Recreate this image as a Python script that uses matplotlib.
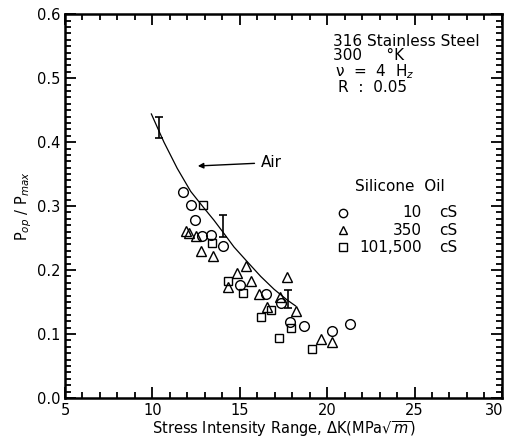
import numpy as np
import matplotlib
matplotlib.use("Agg")
import matplotlib.pyplot as plt
import matplotlib.transforms as mtransforms
from matplotlib.ticker import MultipleLocator, FormatStrFormatter

# silicone oil data
dk_10 = [11.77, 12.23, 12.46, 12.86, 13.33, 14.06, 15.01, 16.48, 17.34, 17.87, 18.69, 20.26, 21.30]
p_10 = [0.322, 0.302, 0.279, 0.254, 0.255, 0.238, 0.176, 0.163, 0.149, 0.119, 0.113, 0.104, 0.115]

dk_350 = [11.94, 12.08, 12.48, 12.80, 13.47, 14.33, 14.82, 15.34, 15.62, 16.12, 16.54, 17.30, 17.72, 18.20, 19.66, 20.29]
p_350 = [0.261, 0.258, 0.254, 0.230, 0.222, 0.173, 0.195, 0.207, 0.183, 0.162, 0.142, 0.158, 0.189, 0.136, 0.092, 0.088]

dk_101500 = [12.91, 13.39, 14.31, 15.18, 16.21, 16.80, 17.26, 17.93, 19.13]
p_101500 = [0.302, 0.242, 0.183, 0.164, 0.127, 0.137, 0.094, 0.110, 0.077]

# air curve and its error bars
dk_air = [9.94, 10.66, 11.42, 12.19, 12.95, 13.52, 14.1, 14.67, 15.43, 16.2, 16.96, 17.72, 18.19]
p_air = [0.444, 0.400, 0.359, 0.323, 0.297, 0.278, 0.257, 0.236, 0.213, 0.190, 0.170, 0.153, 0.144]

dk_err = [10.38, 14.04, 17.76]
p_err = [0.423, 0.269, 0.155]
p_err_half = [0.017, 0.017, 0.014]

legend_labels = ["10", "350", "101,500"]

fig = plt.figure(figsize=(5.08, 4.43), dpi=100)
ax = fig.add_axes([0.128, 0.1016, 0.86, 0.8664])

ms = 7
ax.plot(dk_10, p_10, "o", mfc="none", mec="black", ms=ms, mew=1)
ax.plot(dk_350, p_350, "^", mfc="none", mec="black", ms=ms, mew=1)
ax.plot(dk_101500, p_101500, "s", mfc="none", mec="black", ms=ms - 1, mew=1)

ax.plot(dk_air, p_air, "-", color="black", lw=0.9)
ax.errorbar(dk_err, p_err, yerr=p_err_half, fmt="none", ecolor="black",
            elinewidth=1.2, capsize=3, capthick=1.2)

ax.set_xlim(5, 30)
ax.set_ylim(0, 0.6)
ax.xaxis.set_major_locator(MultipleLocator(5))
ax.xaxis.set_minor_locator(MultipleLocator(1))
ax.yaxis.set_major_locator(MultipleLocator(0.1))
ax.yaxis.set_minor_locator(MultipleLocator(0.01))
ax.yaxis.set_major_formatter(FormatStrFormatter("%.1f"))
ax.tick_params(which="both", direction="in", top=True, right=True,
               labelsize=10.5, width=1.3)
ax.tick_params(which="major", length=8)
ax.tick_params(which="minor", length=4)
for s in ax.spines.values():
    s.set_linewidth(1.8)

ax.set_xlabel(r"Stress Intensity Range, $\Delta$K(MPa$\sqrt{m}$)", fontsize=10.5, labelpad=1)
ax.set_ylabel(r"P$_{op}$ / P$_{max}$", fontsize=10.5, labelpad=2)

# conditions block
fs = 11
ax.text(20.33, 0.558, "316 Stainless Steel", fontsize=fs, va="center", ha="left")
ax.text(20.33, 0.535, "300     °K", fontsize=fs, va="center", ha="left")
ax.text(20.45, 0.510, "ν  =  4  H$_z$", fontsize=fs, va="center", ha="left")
ax.text(20.6, 0.485, "R  :  0.05", fontsize=fs, va="center", ha="left")

# air arrow
ax.annotate("", xy=(12.44, 0.3625), xytext=(16.0, 0.367),
            arrowprops=dict(arrowstyle="-|>", color="black", lw=1, mutation_scale=8))
ax.text(16.2, 0.368, "Air", fontsize=fs, va="center", ha="left")

# legend drawn by hand
ax.text(21.6, 0.331, "Silicone  Oil", fontsize=fs, va="center", ha="left")
leg_y = [0.2895, 0.2625, 0.236]
leg_mk = ["o", "^", "s"]
for yy, mk, lab in zip(leg_y, leg_mk, legend_labels):
    ax.plot([20.9], [yy], mk, mfc="none", mec="black", ms=6, mew=1)
    ax.text(25.42, yy, lab, fontsize=fs, va="center", ha="right")
    ax.text(26.4, yy, "cS", fontsize=fs, va="center", ha="left")

# keep the "30" label inside the picture, as in the original
fig.canvas.draw()
for tick in ax.xaxis.get_major_ticks():
    if abs(tick.get_loc() - 30) < 1e-6:
        tick.label1.set_horizontalalignment("right")
        tick.label1.set_transform(tick.label1.get_transform()
                                  + mtransforms.ScaledTranslation(2 / 100, 0, fig.dpi_scale_trans))

fig.savefig("out.png", dpi=100)
